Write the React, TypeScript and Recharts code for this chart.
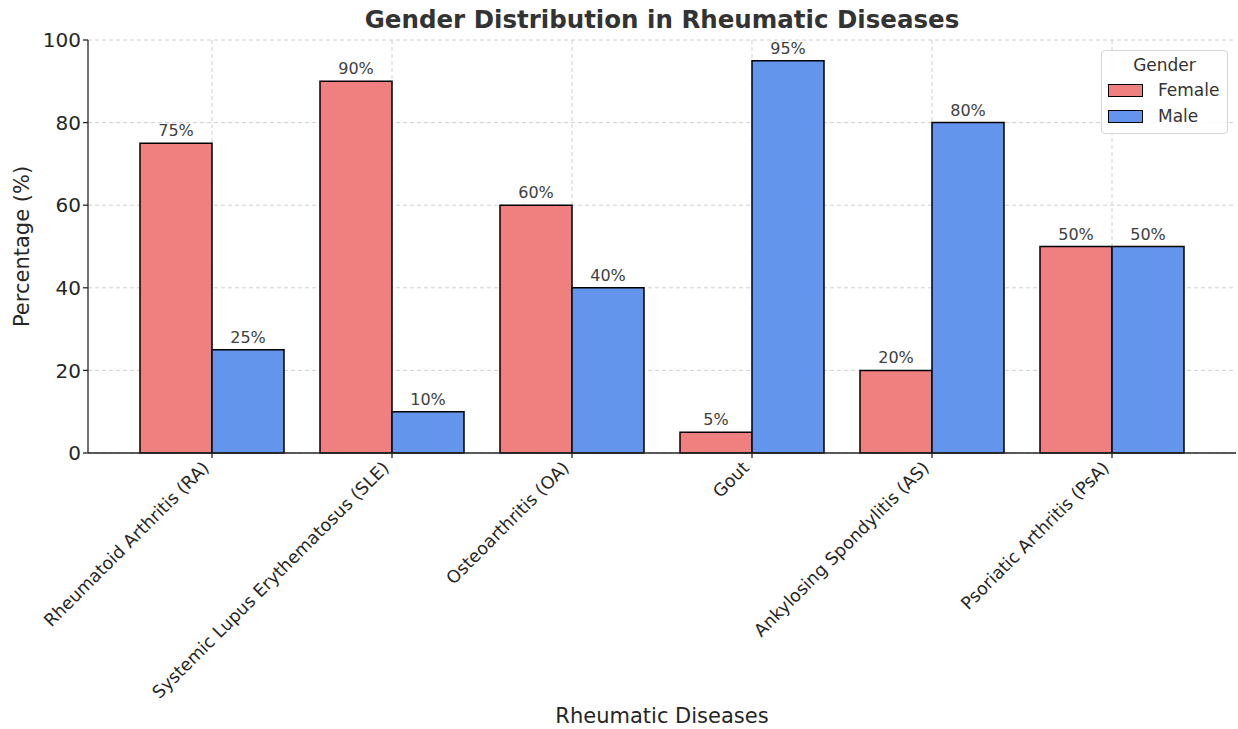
import React from "react";
import { BarChart, Bar, XAxis, YAxis, CartesianGrid, Legend, LabelList, Label } from "recharts";

const diseases = [
  "Rheumatoid Arthritis (RA)",
  "Systemic Lupus Erythematosus (SLE)",
  "Osteoarthritis (OA)",
  "Gout",
  "Ankylosing Spondylitis (AS)",
  "Psoriatic Arthritis (PsA)",
];
const female = [75, 90, 60, 5, 20, 50];
const male = [25, 10, 40, 95, 80, 50];
const yTicks = [0, 20, 40, 60, 80, 100];

const FEMALE = "#F08080";
const MALE = "#6495ED";
const FONT = "DejaVu Sans, sans-serif";

const data = diseases.map((name, i) => ({ name, Female: female[i], Male: male[i] }));

function XTick(props: any) {
  const { x, y, payload } = props;
  const tx = x - 2;
  const ty = y + 9;
  return (
    <text
      x={tx}
      y={ty}
      transform={`rotate(-45, ${tx}, ${ty})`}
      textAnchor="end"
      fontSize={17.5}
      fontFamily={FONT}
      fill="#262626"
    >
      {payload.value}
    </text>
  );
}

function GenderLegend() {
  const items = [
    { label: "Female", color: FEMALE },
    { label: "Male", color: MALE },
  ];
  return (
    <div
      style={{
        boxSizing: "border-box",
        width: 127,
        height: 84,
        border: "1px solid #d6d6d6",
        borderRadius: 4,
        background: "rgba(255,255,255,0.85)",
        fontFamily: FONT,
        fontSize: 17,
        color: "#333",
        padding: "2px 0 0 6px",
      }}
    >
      <div style={{ textAlign: "center", marginLeft: -6, lineHeight: "24px" }}>Gender</div>
      {items.map((it) => (
        <div key={it.label} style={{ display: "flex", alignItems: "center", height: 26 }}>
          <span
            style={{
              display: "inline-block",
              width: 33,
              height: 11,
              background: it.color,
              border: "1.5px solid #000",
              marginRight: 15,
            }}
          />
          <span>{it.label}</span>
        </div>
      ))}
    </div>
  );
}

export default function App() {
  return (
    <div style={{ position: "absolute", left: 0, top: 0, width: 1238, height: 729, background: "#fff" }}>
      <div
        style={{
          position: "absolute",
          left: 88,
          width: 1148,
          top: 5,
          textAlign: "center",
          fontFamily: FONT,
          fontWeight: "bold",
          fontSize: 24.5,
          color: "#333",
        }}
      >
        Gender Distribution in Rheumatic Diseases
      </div>
      <BarChart
        width={1238}
        height={729}
        data={data}
        margin={{ top: 40, right: 2, bottom: 0, left: 0 }}
        barGap={0}
        barCategoryGap={18}
      >
        <CartesianGrid stroke="#d0d0d0" strokeDasharray="4 3" syncWithTicks />
        <XAxis
          dataKey="name"
          interval={0}
          height={276}
          padding={{ left: 34, right: 34 }}
          tick={<XTick />}
          tickSize={5}
          stroke="#262626"
          strokeWidth={1.3}
        >
          <Label
            value="Rheumatic Diseases"
            position="insideBottom"
            offset={6}
            style={{ fontSize: 21, fontFamily: FONT, fill: "#262626" }}
          />
        </XAxis>
        <YAxis
          width={88}
          domain={[0, 100]}
          ticks={yTicks}
          tickSize={5}
          stroke="#262626"
          strokeWidth={1.3}
          tick={{ fontSize: 20, fontFamily: FONT, fill: "#262626" }}
        >
          <Label
            value="Percentage (%)"
            angle={-90}
            position="insideLeft"
            offset={22}
            style={{ textAnchor: "middle", fontSize: 21, fontFamily: FONT, fill: "#262626" }}
          />
        </YAxis>
        <Legend
          layout="vertical"
          align="center"
          verticalAlign="middle"
          content={<GenderLegend />}
          wrapperStyle={{ left: 1101, top: 50, width: 127, height: 84 }}
        />
        <Bar dataKey="Female" fill={FEMALE} stroke="#000" strokeWidth={1.5} barSize={72} isAnimationActive={false}>
          <LabelList
            dataKey="Female"
            position="top"
            offset={7}
            formatter={(v: any) => `${v}%`}
            style={{ fontSize: 16, fontFamily: FONT, fill: "#404040" }}
          />
        </Bar>
        <Bar dataKey="Male" fill={MALE} stroke="#000" strokeWidth={1.5} barSize={72} isAnimationActive={false}>
          <LabelList
            dataKey="Male"
            position="top"
            offset={7}
            formatter={(v: any) => `${v}%`}
            style={{ fontSize: 16, fontFamily: FONT, fill: "#404040" }}
          />
        </Bar>
      </BarChart>
    </div>
  );
}
